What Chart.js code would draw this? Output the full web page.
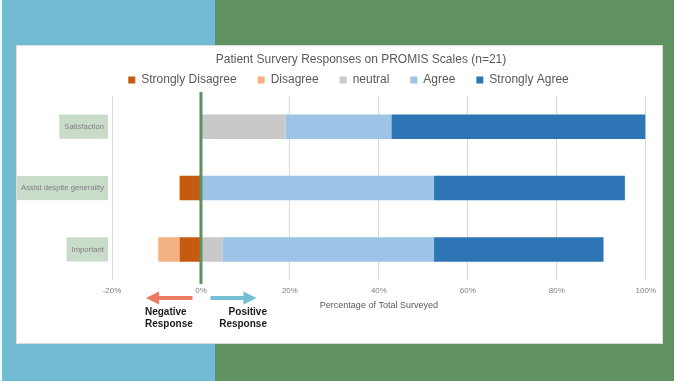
<!DOCTYPE html>
<html>
<head>
<meta charset="utf-8">
<script src="https://cdn.jsdelivr.net/npm/chart.js@4.4.0/dist/chart.umd.min.js"></script>
<style>
html, body { margin: 0; padding: 0; }
body {
  width: 674px; height: 381px; position: relative; overflow: hidden;
  background: linear-gradient(to right, #f4f9fb 0, #f4f9fb 2px, #72bcd3 2px, #72bcd3 215px, #5f9161 215px);
}
#panel {
  position: absolute; left: 17px; top: 46px; width: 645px; height: 297px;
  background: #fff; box-shadow: 0 0 0 1px #dcdcdc;
}
canvas { display: block; }
</style>
</head>
<body>
<div id="panel"><canvas id="myChart" width="645" height="297"></canvas></div>
<script>
// survey answers, percent of the 21 respondents (disagree side negative)
var categories = ['Satisfaction', 'Assist despite generality', 'Important'];
var stronglyDisagree = [0, -4.8, -4.8];
var disagree = [0, 0, -4.8];
var neutral = [19.0, 0, 4.8];
var agree = [23.8, 52.4, 47.6];
var stronglyAgree = [57.1, 42.9, 38.1];

var seriesNames = ['Strongly Disagree', 'Disagree', 'neutral', 'Agree', 'Strongly Agree'];
var seriesColors = ['#c55a11', '#f4b183', '#c9c9c9', '#9dc3e6', '#2e75b6'];
var xMin = -20, xMax = 100, xStep = 20;
var chartTitle = 'Patient Survery Responses on PROMIS Scales (n=21)';
var axisTitle = 'Percentage of Total Surveyed';
var leftNote = ['Negative', 'Response'];
var rightNote = ['Positive', 'Response'];

var FONT = '"Liberation Sans", Arial, sans-serif';

function arrow(ctx, xTail, xTip, y, color) {
  var dir = xTip > xTail ? 1 : -1;
  var head = 13, half = 6.5, shaft = 2;
  ctx.fillStyle = color;
  ctx.beginPath();
  ctx.moveTo(xTail, y - shaft);
  ctx.lineTo(xTip - dir * head, y - shaft);
  ctx.lineTo(xTip - dir * head, y - half);
  ctx.lineTo(xTip, y);
  ctx.lineTo(xTip - dir * head, y + half);
  ctx.lineTo(xTip - dir * head, y + shaft);
  ctx.lineTo(xTail, y + shaft);
  ctx.closePath();
  ctx.fill();
}

var extras = {
  id: 'extras',
  afterLayout: function(chart) {
    // nudge legend to the right like the original
    chart.legend.left += 9;
    chart.legend.right += 9;
  },
  afterDatasetsDraw: function(chart) {
    var ctx = chart.ctx, area = chart.chartArea;
    var x0 = chart.scales.x.getPixelForValue(0);
    ctx.save();
    ctx.fillStyle = '#5e9160';
    ctx.fillRect(x0 - 1.5, area.top - 4, 3, area.bottom - area.top + 8);
    ctx.restore();
  },
  afterDraw: function(chart) {
    var ctx = chart.ctx, area = chart.chartArea;
    var x0 = chart.scales.x.getPixelForValue(0);
    ctx.save();
    // title
    ctx.font = '12px ' + FONT;
    ctx.fillStyle = '#595959';
    ctx.textAlign = 'center';
    ctx.textBaseline = 'middle';
    ctx.fillText(chartTitle, 344, 14);

    // direction arrows
    var ay = area.bottom + 18;
    arrow(ctx, x0 - 8.5, x0 - 55, ay, '#ec7a60');
    arrow(ctx, x0 + 9.5, x0 + 55.5, ay, '#74bfd3');

    ctx.font = 'bold 10px ' + FONT;
    ctx.fillStyle = '#1a1a1a';
    ctx.textBaseline = 'alphabetic';
    ctx.textAlign = 'left';
    ctx.fillText(leftNote[0], x0 - 56, area.bottom + 35);
    ctx.fillText(leftNote[1], x0 - 56, area.bottom + 46.5);
    ctx.textAlign = 'right';
    ctx.fillText(rightNote[0], x0 + 66, area.bottom + 35);
    ctx.fillText(rightNote[1], x0 + 66, area.bottom + 46.5);
    ctx.restore();
  }
};

var seriesData = [stronglyDisagree, disagree, neutral, agree, stronglyAgree];
var datasets = [];
for (var i = 0; i < seriesNames.length; i++) {
  datasets.push({
    label: seriesNames[i],
    data: seriesData[i],
    backgroundColor: seriesColors[i],
    borderWidth: 0,
    barPercentage: 0.8,
    categoryPercentage: 0.5
  });
}

var ctx = document.getElementById('myChart');
var chart = new Chart(ctx, {
  type: 'bar',
  data: { labels: categories, datasets: datasets },
  plugins: [extras],
  options: {
    indexAxis: 'y',
    responsive: false,
    animation: false,
    devicePixelRatio: 1,
    layout: { padding: { left: 0, right: 0, top: 7, bottom: 32.5 } },
    plugins: {
      title: { display: false },
      tooltip: { enabled: false },
      legend: {
        position: 'top',
        labels: {
          boxWidth: 7, boxHeight: 7, padding: 21, color: '#595959',
          font: { size: 12, family: FONT }
        }
      }
    },
    scales: {
      x: {
        stacked: true,
        min: xMin, max: xMax,
        grid: { color: '#d9d9d9', drawTicks: false },
        border: { display: false },
        ticks: {
          stepSize: xStep, padding: 6, color: '#7f7f7f',
          font: { size: 8, family: FONT },
          callback: function(v) { return v + '%'; }
        },
        title: {
          display: true, text: axisTitle, color: '#595959',
          padding: { top: -2, bottom: 0 },
          font: { size: 9, family: FONT }
        }
      },
      y: {
        stacked: true,
        grid: { display: false, drawTicks: false },
        border: { display: false },
        afterFit: function(scale) { scale.width = 95; },
        ticks: {
          padding: 8, color: '#7f7f7f',
          font: { size: 7.7, family: FONT },
          showLabelBackdrop: true,
          backdropColor: '#c9dcca',
          backdropPadding: { top: 7.5, bottom: 7.5, left: 5, right: 4 }
        }
      }
    }
  }
});
</script>
</body>
</html>
